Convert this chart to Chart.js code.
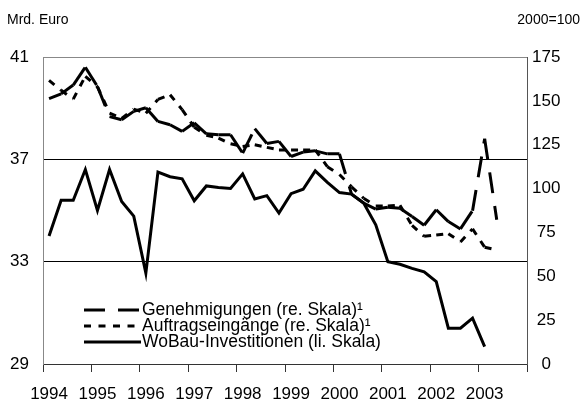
<!DOCTYPE html>
<html>
<head>
<meta charset="utf-8">
<script src="https://cdn.jsdelivr.net/npm/chart.js@4.4.0/dist/chart.umd.min.js"></script>
<style>
  html, body { margin: 0; padding: 0; background: #fff; }
</style>
</head>
<body>
<canvas id="myChart" width="582" height="403"></canvas>
<script>
// Quartalswerte 1994 Q1 bis 2003 Q4
const years = ['1994', '1995', '1996', '1997', '1998', '1999', '2000', '2001', '2002', '2003'];
const quarters = [];
years.forEach(y => { for (let q = 1; q <= 4; q++) quarters.push(y + ' Q' + q); });

// Mrd. Euro (linke Skala)
const wobau = [34.0, 35.4, 35.4, 36.6, 35.0, 36.6, 35.35, 34.78, 32.55, 36.5, 36.32, 36.24,
  35.38, 35.96, 35.9, 35.86, 36.43, 35.45, 35.58, 34.9, 35.66, 35.83, 36.55, 36.1,
  35.7, 35.64, 35.29, 34.44, 33.0, 32.9, 32.74, 32.6, 32.22, 30.4, 30.4, 30.79, 29.68];
// 2000=100 (rechte Skala)
const genehm = [151.3, 154, 159, 169.2, 158.2, 141, 139.2, 144, 146.1, 138.3, 136.4, 132.6,
  137.5, 131.2, 130.7, 130.7, 120.2, 134.2, 125.7, 126.9, 118.3, 120.8, 121.5, 119.8,
  119.8, 96.8, 91.7, 88.3, 89.4, 88.8, 84.1, 79.1, 87.9, 81.2, 77, 87.4, 128.4, 82.2];
const auftrag = [161.7, 156, 151, 164, 158, 143, 140, 145.3, 143, 150.8, 153.5, 145,
  135, 130.4, 128.8, 125.5, 124, 125, 123.5, 122, 122, 122, 122, 112.5,
  108, 101, 94.5, 90, 90, 90.5, 79, 72.8, 73.6, 74.3, 69.6, 77, 66.6, 65];

const leftTicks = [29, 33, 37, 41];
const rightTicks = [0, 25, 50, 75, 100, 125, 150, 175];

Chart.defaults.font.family = '"Liberation Sans", Arial, sans-serif';
Chart.defaults.color = '#000';

// each segment gets its own path so the dash pattern restarts at every point
const restartDash = { borderDashOffset: c => (c.p0DataIndex % 2 ? 0.001 : 0) };

const innerLegend = {
    id: 'innerLegend',
    afterDraw(chart) {
        const ctx = chart.ctx;
        const area = chart.chartArea;
        ctx.save();
        ctx.fillStyle = '#000';
        ctx.strokeStyle = '#000';
        ctx.textBaseline = 'middle';
        ctx.font = '17.5px "Liberation Sans", Arial, sans-serif';
        chart.data.datasets.forEach((ds, i) => {
            const y = 310 + i * 16;
            ctx.beginPath();
            ctx.lineWidth = 3;
            ctx.setLineDash(ds.legendDash);
            ctx.moveTo(area.left + 41, y);
            ctx.lineTo(area.left + 98, y);
            ctx.stroke();
            ctx.setLineDash([]);
            ctx.fillText(ds.label, area.left + 99, y);
        });
        ctx.font = '14px "Liberation Sans", Arial, sans-serif';
        ctx.textAlign = 'left';
        ctx.fillText('Mrd. Euro', 7, 20);
        ctx.textAlign = 'right';
        ctx.fillText('2000=100', 580, 20);
        ctx.restore();
    }
};

const ctx = document.getElementById('myChart').getContext('2d');
const myChart = new Chart(ctx, {
    type: 'line',
    data: {
        labels: quarters,
        datasets: [{
            label: 'Genehmigungen (re. Skala)\u00b9',
            data: genehm,
            yAxisID: 'y1',
            borderColor: '#000',
            borderWidth: 3,
            borderDash: [21, 13],
            legendDash: [21, 13],
            segment: restartDash,
            pointRadius: 0
        }, {
            label: 'Auftragseingänge (re. Skala)\u00b9',
            data: auftrag,
            yAxisID: 'y1',
            borderColor: '#000',
            borderWidth: 3,
            borderDash: [7, 7.5],
            legendDash: [7, 7.5],
            segment: restartDash,
            pointRadius: 0
        }, {
            label: 'WoBau-Investitionen (li. Skala)',
            data: wobau,
            yAxisID: 'y',
            borderColor: '#000',
            borderWidth: 3,
            legendDash: [],
            pointRadius: 0
        }]
    },
    options: {
        responsive: false,
        animation: false,
        events: [],
        layout: { padding: { top: 57, left: 0, right: 0, bottom: 0 } },
        plugins: {
            legend: { display: false },
            tooltip: { enabled: false }
        },
        scales: {
            x: {
                offset: true,
                grid: {
                    offset: true,
                    drawOnChartArea: false,
                    tickLength: 8,
                    tickColor: c => (c.index === undefined || c.index % 4 === 0) ? '#333' : 'rgba(0,0,0,0)'
                },
                border: { color: '#333' },
                ticks: {
                    autoSkip: false,
                    maxRotation: 0,
                    minRotation: 0,
                    padding: 12,
                    font: { size: 17 },
                    callback: (v, i) => (i % 4 === 0 ? years[i / 4] : '')
                },
                afterFit: s => { s.height = 39; }
            },
            y: {
                position: 'left',
                min: 29,
                max: 41,
                afterBuildTicks: s => { s.ticks = leftTicks.map(v => ({ value: v })); },
                grid: {
                    drawTicks: false,
                    color: c => c.tick.value === 41 ? '#888' : (c.tick.value === 29 ? 'rgba(0,0,0,0)' : '#000')
                },
                border: { color: '#888' },
                ticks: { padding: 14, font: { size: 17 } },
                afterFit: s => { s.width = 43; }
            },
            y1: {
                position: 'right',
                min: 0,
                max: 175,
                afterBuildTicks: s => { s.ticks = rightTicks.map(v => ({ value: v })); },
                grid: { drawOnChartArea: false, drawTicks: false },
                border: { color: '#555' },
                ticks: { padding: 5, crossAlign: 'center', font: { size: 17 } },
                afterFit: s => { s.width = 55; }
            }
        }
    },
    plugins: [innerLegend]
});
</script>
</body>
</html>
